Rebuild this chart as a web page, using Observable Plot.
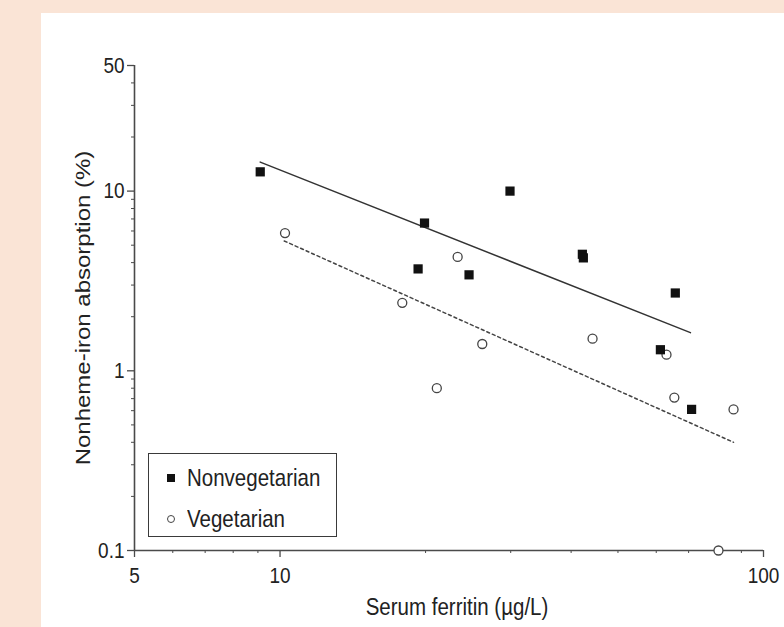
<!DOCTYPE html>
<html>
<head>
<meta charset="utf-8">
<script src="https://cdn.jsdelivr.net/npm/d3@7"></script>
<script src="https://cdn.jsdelivr.net/npm/@observablehq/plot@0.6"></script>
<style>
  html, body { margin: 0; padding: 0; }
  body { width: 784px; height: 627px; background: #fae4d6; position: relative; overflow: hidden;
         font-family: "Liberation Sans", Arial, Helvetica, sans-serif; color: #222; }
  #panel { position: absolute; left: 41px; top: 13px; width: 743px; height: 614px; background: #fff; }
  #chart { position: absolute; left: 0; top: 0; }
  #chart svg { background: transparent !important; }
  #legend { position: absolute; left: 148px; top: 453px; width: 187px; height: 82px;
            border: 1.5px solid #3a3a3a; background: #fff; }
  .item { position: absolute; left: 38px; font-size: 20.5px; line-height: 20px; color: #222;
          transform: scaleY(1.15); transform-origin: left center; }
  .sym { position: absolute; box-sizing: border-box; }
  #ytitle { position: absolute; left: 83px; top: 308px; transform: translate(-50%, -50%) rotate(-90deg) scaleX(1.17);
            white-space: nowrap; font-size: 20.5px; color: #222; }
  #xtitle { position: absolute; left: 457px; top: 607px; transform: translate(-50%, -50%) scaleY(1.15);
            white-space: nowrap; font-size: 20.5px; color: #222; }
</style>
</head>
<body>
<div id="panel"></div>
<div id="chart"></div>
<div id="ytitle">Nonheme-iron absorption (%)</div>
<div id="xtitle">Serum ferritin (µg/L)</div>
<div id="legend">
  <span class="sym" style="left:18px; top:20px; width:8px; height:8px; background:#111;"></span>
  <span class="item" style="top:14px;">Nonvegetarian</span>
  <span class="sym" style="left:18px; top:61px; width:8px; height:8px; border:1.2px solid #444; border-radius:50%; background:#fff;"></span>
  <span class="item" style="top:55px;">Vegetarian</span>
</div>
<script>
// Data
const nonvegFerritin   = [9.1, 19.9, 19.3, 24.6, 29.9, 42.2, 42.4, 65.7, 61.2, 71.0];
const nonvegAbsorption = [12.8, 6.64, 3.69, 3.42, 10.0, 4.45, 4.25, 2.71, 1.31, 0.61];
const vegFerritin      = [10.24, 17.9, 21.1, 23.3, 26.2, 44.3, 63.0, 65.4, 86.7, 80.7];
const vegAbsorption    = [5.84, 2.39, 0.80, 4.3, 1.41, 1.51, 1.23, 0.71, 0.61, 0.1];

// Regression line end points
const nonvegFitX = [9.1, 70.6];
const nonvegFitY = [14.5, 1.63];
const vegFitX = [10.2, 86.7];
const vegFitY = [5.28, 0.40];

// Axis ticks and labels
const xMajorTicks = [5, 10, 100];
const xMajorLabels = ["5", "10", "100"];
const xMinorTicks = [6, 7, 8, 9, 20, 30, 40, 50, 60, 70, 80, 90];
const yMajorTicks = [0.1, 1, 10, 50];
const yMajorLabels = ["0.1", "1", "10", "50"];
const yMinorTicks = [0.2, 0.3, 0.4, 0.5, 0.6, 0.7, 0.8, 0.9, 2, 3, 4, 5, 6, 7, 8, 9, 20, 30, 40];

const nonveg = nonvegFerritin.map((f, i) => ({ferritin: f, absorption: nonvegAbsorption[i]}));
const veg = vegFerritin.map((f, i) => ({ferritin: f, absorption: vegAbsorption[i]}));
const nonvegFit = nonvegFitX.map((f, i) => ({ferritin: f, absorption: nonvegFitY[i]}));
const vegFit = vegFitX.map((f, i) => ({ferritin: f, absorption: vegFitY[i]}));
const xLabels = xMajorTicks.map((v, i) => ({v, label: xMajorLabels[i]}));
const yLabels = yMajorTicks.map((v, i) => ({v, label: yMajorLabels[i]}));

const axisColor = "#4a4a4a";
const xMin = 5, yMin = 0.1;

const chart = Plot.plot({
  width: 784,
  height: 627,
  marginLeft: 134,
  marginRight: 21,
  marginTop: 65,
  marginBottom: 77,
  style: { background: "transparent", fontFamily: "'Liberation Sans', Arial, Helvetica, sans-serif", color: "#222" },
  x: { type: "log", domain: [5, 100] },
  y: { type: "log", domain: [0.1, 50] },
  marks: [
    Plot.axisX({ ticks: xMinorTicks, tickSize: 3, tickFormat: () => "", stroke: axisColor, label: null }),
    Plot.axisY({ ticks: yMinorTicks, tickSize: 3, tickFormat: () => "", stroke: axisColor, label: null }),
    Plot.axisX({ ticks: xMajorTicks, tickSize: 7, tickFormat: () => "", stroke: axisColor, strokeWidth: 1.3, label: null }),
    Plot.axisY({ ticks: yMajorTicks, tickSize: 7, tickFormat: () => "", stroke: axisColor, strokeWidth: 1.3, label: null }),
    Plot.text(xLabels, { x: "v", y: yMin, text: "label", dy: 17, lineAnchor: "top", fontSize: 19, fill: "#222" }),
    Plot.text(yLabels, { x: xMin, y: "v", text: "label", dx: -10, textAnchor: "end", lineAnchor: "middle", fontSize: 19, fill: "#222" }),
    Plot.ruleY([yMin], { x1: 5, x2: 100, stroke: axisColor, strokeWidth: 1.6 }),
    Plot.ruleX([xMin], { y1: 0.1, y2: 50, stroke: axisColor, strokeWidth: 1.6 }),
    Plot.line(nonvegFit, { x: "ferritin", y: "absorption", stroke: "#333", strokeWidth: 1.5 }),
    Plot.line(vegFit, { x: "ferritin", y: "absorption", stroke: "#444", strokeWidth: 1.5, strokeDasharray: "3,3" }),
    Plot.dot(veg, { x: "ferritin", y: "absorption", symbol: "circle", r: 4.5, fill: "#fff", stroke: "#444", strokeWidth: 1.3 }),
    Plot.dot(nonveg, { x: "ferritin", y: "absorption", symbol: "square", r: 5.2, fill: "#111", stroke: "none" })
  ]
});

// Stretch tick labels vertically to match the reference's tall glyphs
d3.select(chart).selectAll("text").each(function() {
  const t = d3.select(this);
  if (!t.text()) return;
  const tr = t.attr("transform");
  if (tr) {
    t.attr("transform", tr + " scale(1,1.17)");
  } else {
    const x = +(t.attr("x") || 0), y = +(t.attr("y") || 0);
    t.attr("x", null).attr("y", null).attr("transform", `translate(${x},${y}) scale(1,1.17)`);
  }
});

document.getElementById("chart").appendChild(chart);
</script>
</body>
</html>
